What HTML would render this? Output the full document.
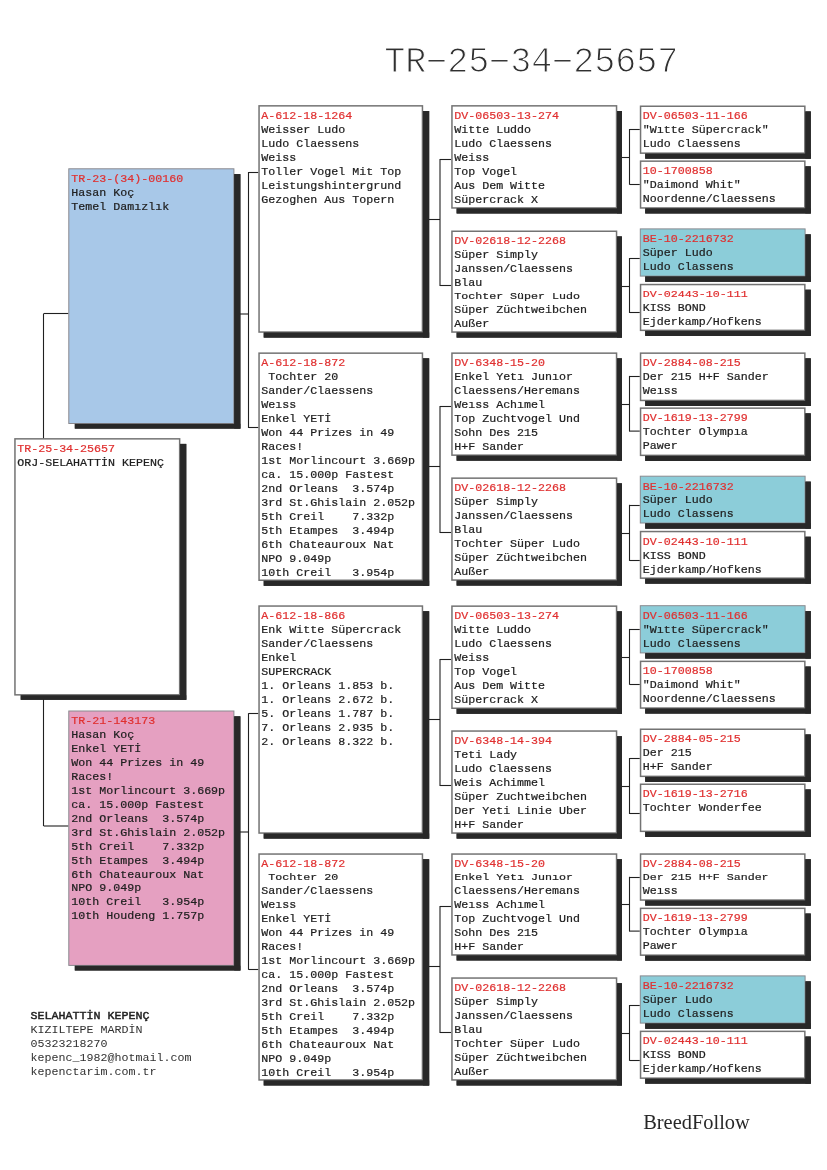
<!DOCTYPE html>
<html><head><meta charset="utf-8"><title>TR-25-34-25657</title>
<style>
html,body{margin:0;padding:0;background:#fff;}
body{width:827px;height:1170px;overflow:hidden;font-family:"Liberation Mono",monospace;}
svg{display:block;}
</style></head><body>
<svg width="827" height="1170" viewBox="0 0 827 1170">
<defs><filter id="idf" x="0" y="0" width="827" height="1170" filterUnits="userSpaceOnUse" color-interpolation-filters="sRGB"><feOffset dx="0" dy="0"/></filter></defs>
<rect width="827" height="1170" fill="#ffffff"/>
<g stroke="#202020" stroke-width="1.1" fill="none">
<path d="M43.50 438.70L43.50 313.60"/>
<path d="M43.70 313.50L68.50 313.50"/>
<path d="M43.50 699.00L43.50 826.00"/>
<path d="M43.70 826.00L68.50 826.00"/>
<path d="M239.00 314.00L248.50 314.00"/>
<path d="M248.50 171.90L248.50 427.90"/>
<path d="M248.50 172.50L258.40 172.50"/>
<path d="M248.50 427.50L258.40 427.50"/>
<path d="M239.00 832.00L248.50 832.00"/>
<path d="M248.50 713.20L248.50 969.80"/>
<path d="M248.50 713.50L258.40 713.50"/>
<path d="M248.50 969.50L258.40 969.50"/>
<path d="M428.20 219.50L440.00 219.50"/>
<path d="M440.00 158.90L440.00 285.90"/>
<path d="M440.00 159.50L451.20 159.50"/>
<path d="M440.00 285.50L451.20 285.50"/>
<path d="M428.20 466.50L440.00 466.50"/>
<path d="M440.00 405.90L440.00 532.90"/>
<path d="M440.00 406.50L451.20 406.50"/>
<path d="M440.00 532.50L451.20 532.50"/>
<path d="M428.20 719.50L440.00 719.50"/>
<path d="M440.00 658.90L440.00 785.90"/>
<path d="M440.00 659.50L451.20 659.50"/>
<path d="M440.00 785.50L451.20 785.50"/>
<path d="M428.20 966.50L440.00 966.50"/>
<path d="M440.00 905.90L440.00 1032.90"/>
<path d="M440.00 906.50L451.20 906.50"/>
<path d="M440.00 1032.50L451.20 1032.50"/>
<path d="M621.30 157.50L629.60 157.50"/>
<path d="M629.50 129.00L629.50 184.70"/>
<path d="M629.60 129.50L639.80 129.50"/>
<path d="M629.60 184.50L639.80 184.50"/>
<path d="M621.30 286.50L629.60 286.50"/>
<path d="M629.50 258.00L629.50 313.00"/>
<path d="M629.60 258.50L639.80 258.50"/>
<path d="M629.60 312.50L639.80 312.50"/>
<path d="M621.30 404.50L629.60 404.50"/>
<path d="M629.50 375.90L629.50 431.60"/>
<path d="M629.60 376.50L639.80 376.50"/>
<path d="M629.60 431.10L639.80 431.10"/>
<path d="M621.30 533.50L629.60 533.50"/>
<path d="M629.50 504.80L629.50 560.90"/>
<path d="M629.60 505.50L639.80 505.50"/>
<path d="M629.60 560.50L639.80 560.50"/>
<path d="M621.30 657.50L629.60 657.50"/>
<path d="M629.50 628.90L629.50 684.70"/>
<path d="M629.60 629.50L639.80 629.50"/>
<path d="M629.60 684.50L639.80 684.50"/>
<path d="M621.30 786.50L629.60 786.50"/>
<path d="M629.50 758.00L629.50 814.00"/>
<path d="M629.60 758.50L639.80 758.50"/>
<path d="M629.60 813.50L639.80 813.50"/>
<path d="M621.30 904.50L629.60 904.50"/>
<path d="M629.50 876.80L629.50 931.60"/>
<path d="M629.60 877.50L639.80 877.50"/>
<path d="M629.60 931.10L639.80 931.10"/>
<path d="M621.30 1033.50L629.60 1033.50"/>
<path d="M629.50 1005.00L629.50 1060.80"/>
<path d="M629.60 1005.50L639.80 1005.50"/>
<path d="M629.60 1060.50L639.80 1060.50"/>
</g>
<g font-family="Liberation Mono, monospace" font-size="11.67px" stroke-width="0.22" filter="url(#idf)">
<rect x="20.70" y="443.90" width="165.60" height="255.90" fill="#282828"/>
<rect x="14.95" y="438.85" width="164.70" height="256.00" fill="#ffffff" stroke="#737373" stroke-width="1.5"/>
<rect x="180.10" y="443.90" width="6.20" height="255.90" fill="#282828"/>
<rect x="20.70" y="695.30" width="165.60" height="4.50" fill="#282828"/>
<text x="17.20" y="0" transform="translate(0 451.90) scale(1 0.930)" fill="#e03030" stroke="#e03030" xml:space="preserve">TR-25-34-25657</text>
<text x="17.20" y="0" transform="translate(0 465.86) scale(1 0.930)" fill="#202020" stroke="#202020" xml:space="preserve">ORJ-SELAHATTİN KEPENÇ</text>
<rect x="74.80" y="174.10" width="165.60" height="254.50" fill="#282828"/>
<rect x="68.80" y="168.80" width="165.10" height="254.70" fill="#a8c8e8" stroke="#8a8a90" stroke-width="1.0"/>
<rect x="234.20" y="174.10" width="6.20" height="254.50" fill="#282828"/>
<rect x="74.80" y="423.80" width="165.60" height="4.80" fill="#282828"/>
<text x="71.30" y="0" transform="translate(0 182.10) scale(1 0.930)" fill="#e03030" stroke="#e03030" xml:space="preserve">TR-23-(34)-00160</text>
<text x="71.30" y="0" transform="translate(0 196.06) scale(1 0.930)" fill="#202020" stroke="#202020" xml:space="preserve">Hasan Koç</text>
<text x="71.30" y="0" transform="translate(0 210.02) scale(1 0.930)" fill="#202020" stroke="#202020" xml:space="preserve">Temel Damızlık</text>
<rect x="74.80" y="716.30" width="165.60" height="254.20" fill="#282828"/>
<rect x="68.80" y="711.00" width="165.10" height="254.40" fill="#e5a0c1" stroke="#8a8a90" stroke-width="1.0"/>
<rect x="234.20" y="716.30" width="6.20" height="254.20" fill="#282828"/>
<rect x="74.80" y="965.70" width="165.60" height="4.80" fill="#282828"/>
<text x="71.30" y="0" transform="translate(0 724.30) scale(1 0.930)" fill="#e03030" stroke="#e03030" xml:space="preserve">TR-21-143173</text>
<text x="71.30" y="0" transform="translate(0 738.26) scale(1 0.930)" fill="#202020" stroke="#202020" xml:space="preserve">Hasan Koç</text>
<text x="71.30" y="0" transform="translate(0 752.22) scale(1 0.930)" fill="#202020" stroke="#202020" xml:space="preserve">Enkel YETİ</text>
<text x="71.30" y="0" transform="translate(0 766.18) scale(1 0.930)" fill="#202020" stroke="#202020" xml:space="preserve">Won 44 Prizes in 49</text>
<text x="71.30" y="0" transform="translate(0 780.14) scale(1 0.930)" fill="#202020" stroke="#202020" xml:space="preserve">Races!</text>
<text x="71.30" y="0" transform="translate(0 794.10) scale(1 0.930)" fill="#202020" stroke="#202020" xml:space="preserve">1st Morlincourt 3.669p</text>
<text x="71.30" y="0" transform="translate(0 808.06) scale(1 0.930)" fill="#202020" stroke="#202020" xml:space="preserve">ca. 15.000p Fastest</text>
<text x="71.30" y="0" transform="translate(0 822.02) scale(1 0.930)" fill="#202020" stroke="#202020" xml:space="preserve">2nd Orleans  3.574p</text>
<text x="71.30" y="0" transform="translate(0 835.98) scale(1 0.930)" fill="#202020" stroke="#202020" xml:space="preserve">3rd St.Ghislain 2.052p</text>
<text x="71.30" y="0" transform="translate(0 849.94) scale(1 0.930)" fill="#202020" stroke="#202020" xml:space="preserve">5th Creil    7.332p</text>
<text x="71.30" y="0" transform="translate(0 863.90) scale(1 0.930)" fill="#202020" stroke="#202020" xml:space="preserve">5th Etampes  3.494p</text>
<text x="71.30" y="0" transform="translate(0 877.86) scale(1 0.930)" fill="#202020" stroke="#202020" xml:space="preserve">6th Chateauroux Nat</text>
<text x="71.30" y="0" transform="translate(0 890.82) scale(1 0.930)" fill="#202020" stroke="#202020" xml:space="preserve">NPO 9.049p</text>
<text x="71.30" y="0" transform="translate(0 904.78) scale(1 0.930)" fill="#202020" stroke="#202020" xml:space="preserve">10th Creil   3.954p</text>
<text x="71.30" y="0" transform="translate(0 918.74) scale(1 0.930)" fill="#202020" stroke="#202020" xml:space="preserve">10th Houdeng 1.757p</text>
<rect x="263.70" y="111.00" width="165.50" height="226.60" fill="#282828"/>
<rect x="259.05" y="105.85" width="163.40" height="226.20" fill="#ffffff" stroke="#737373" stroke-width="1.5"/>
<rect x="422.90" y="111.00" width="6.30" height="226.60" fill="#282828"/>
<rect x="263.70" y="332.50" width="165.50" height="5.10" fill="#282828"/>
<text x="261.30" y="0" transform="translate(0 118.90) scale(1 0.930)" fill="#e03030" stroke="#e03030" xml:space="preserve">A-612-18-1264</text>
<text x="261.30" y="0" transform="translate(0 132.86) scale(1 0.930)" fill="#202020" stroke="#202020" xml:space="preserve">Weisser Ludo</text>
<text x="261.30" y="0" transform="translate(0 146.82) scale(1 0.930)" fill="#202020" stroke="#202020" xml:space="preserve">Ludo Claessens</text>
<text x="261.30" y="0" transform="translate(0 160.78) scale(1 0.930)" fill="#202020" stroke="#202020" xml:space="preserve">Weiss</text>
<text x="261.30" y="0" transform="translate(0 174.74) scale(1 0.930)" fill="#202020" stroke="#202020" xml:space="preserve">Toller Vogel Mit Top</text>
<text x="261.30" y="0" transform="translate(0 188.70) scale(1 0.930)" fill="#202020" stroke="#202020" xml:space="preserve">Leistungshintergrund</text>
<text x="261.30" y="0" transform="translate(0 202.66) scale(1 0.930)" fill="#202020" stroke="#202020" xml:space="preserve">Gezoghen Aus Topern</text>
<rect x="263.70" y="358.30" width="165.50" height="227.50" fill="#282828"/>
<rect x="259.05" y="353.15" width="163.40" height="227.10" fill="#ffffff" stroke="#737373" stroke-width="1.5"/>
<rect x="422.90" y="358.30" width="6.30" height="227.50" fill="#282828"/>
<rect x="263.70" y="580.70" width="165.50" height="5.10" fill="#282828"/>
<text x="261.30" y="0" transform="translate(0 366.20) scale(1 0.930)" fill="#e03030" stroke="#e03030" xml:space="preserve">A-612-18-872</text>
<text x="261.30" y="0" transform="translate(0 380.16) scale(1 0.930)" fill="#202020" stroke="#202020" xml:space="preserve"> Tochter 20</text>
<text x="261.30" y="0" transform="translate(0 394.12) scale(1 0.930)" fill="#202020" stroke="#202020" xml:space="preserve">Sander/Claessens</text>
<text x="261.30" y="0" transform="translate(0 408.08) scale(1 0.930)" fill="#202020" stroke="#202020" xml:space="preserve">Weıss</text>
<text x="261.30" y="0" transform="translate(0 422.04) scale(1 0.930)" fill="#202020" stroke="#202020" xml:space="preserve">Enkel YETİ</text>
<text x="261.30" y="0" transform="translate(0 436.00) scale(1 0.930)" fill="#202020" stroke="#202020" xml:space="preserve">Won 44 Prizes in 49</text>
<text x="261.30" y="0" transform="translate(0 449.96) scale(1 0.930)" fill="#202020" stroke="#202020" xml:space="preserve">Races!</text>
<text x="261.30" y="0" transform="translate(0 463.92) scale(1 0.930)" fill="#202020" stroke="#202020" xml:space="preserve">1st Morlincourt 3.669p</text>
<text x="261.30" y="0" transform="translate(0 477.88) scale(1 0.930)" fill="#202020" stroke="#202020" xml:space="preserve">ca. 15.000p Fastest</text>
<text x="261.30" y="0" transform="translate(0 491.84) scale(1 0.930)" fill="#202020" stroke="#202020" xml:space="preserve">2nd Orleans  3.574p</text>
<text x="261.30" y="0" transform="translate(0 505.80) scale(1 0.930)" fill="#202020" stroke="#202020" xml:space="preserve">3rd St.Ghislain 2.052p</text>
<text x="261.30" y="0" transform="translate(0 519.76) scale(1 0.930)" fill="#202020" stroke="#202020" xml:space="preserve">5th Creil    7.332p</text>
<text x="261.30" y="0" transform="translate(0 533.72) scale(1 0.930)" fill="#202020" stroke="#202020" xml:space="preserve">5th Etampes  3.494p</text>
<text x="261.30" y="0" transform="translate(0 547.68) scale(1 0.930)" fill="#202020" stroke="#202020" xml:space="preserve">6th Chateauroux Nat</text>
<text x="261.30" y="0" transform="translate(0 561.64) scale(1 0.930)" fill="#202020" stroke="#202020" xml:space="preserve">NPO 9.049p</text>
<text x="261.30" y="0" transform="translate(0 575.60) scale(1 0.930)" fill="#202020" stroke="#202020" xml:space="preserve">10th Creil   3.954p</text>
<rect x="263.70" y="611.20" width="165.50" height="227.40" fill="#282828"/>
<rect x="259.05" y="606.05" width="163.40" height="227.00" fill="#ffffff" stroke="#737373" stroke-width="1.5"/>
<rect x="422.90" y="611.20" width="6.30" height="227.40" fill="#282828"/>
<rect x="263.70" y="833.50" width="165.50" height="5.10" fill="#282828"/>
<text x="261.30" y="0" transform="translate(0 619.10) scale(1 0.930)" fill="#e03030" stroke="#e03030" xml:space="preserve">A-612-18-866</text>
<text x="261.30" y="0" transform="translate(0 633.06) scale(1 0.930)" fill="#202020" stroke="#202020" xml:space="preserve">Enk Witte Süpercrack</text>
<text x="261.30" y="0" transform="translate(0 647.02) scale(1 0.930)" fill="#202020" stroke="#202020" xml:space="preserve">Sander/Claessens</text>
<text x="261.30" y="0" transform="translate(0 660.98) scale(1 0.930)" fill="#202020" stroke="#202020" xml:space="preserve">Enkel</text>
<text x="261.30" y="0" transform="translate(0 674.94) scale(1 0.930)" fill="#202020" stroke="#202020" xml:space="preserve">SUPERCRACK</text>
<text x="261.30" y="0" transform="translate(0 688.90) scale(1 0.930)" fill="#202020" stroke="#202020" xml:space="preserve">1. Orleans 1.853 b.</text>
<text x="261.30" y="0" transform="translate(0 702.86) scale(1 0.930)" fill="#202020" stroke="#202020" xml:space="preserve">1. Orleans 2.672 b.</text>
<text x="261.30" y="0" transform="translate(0 716.82) scale(1 0.930)" fill="#202020" stroke="#202020" xml:space="preserve">5. Orleans 1.787 b.</text>
<text x="261.30" y="0" transform="translate(0 730.78) scale(1 0.930)" fill="#202020" stroke="#202020" xml:space="preserve">7. Orleans 2.935 b.</text>
<text x="261.30" y="0" transform="translate(0 744.74) scale(1 0.930)" fill="#202020" stroke="#202020" xml:space="preserve">2. Orleans 8.322 b.</text>
<rect x="263.70" y="859.20" width="165.50" height="226.30" fill="#282828"/>
<rect x="259.05" y="854.05" width="163.40" height="225.90" fill="#ffffff" stroke="#737373" stroke-width="1.5"/>
<rect x="422.90" y="859.20" width="6.30" height="226.30" fill="#282828"/>
<rect x="263.70" y="1080.40" width="165.50" height="5.10" fill="#282828"/>
<text x="261.30" y="0" transform="translate(0 867.10) scale(1 0.930)" fill="#e03030" stroke="#e03030" xml:space="preserve">A-612-18-872</text>
<text x="261.30" y="0" transform="translate(0 880.06) scale(1 0.806)" fill="#202020" stroke="#202020" xml:space="preserve"> Tochter 20</text>
<text x="261.30" y="0" transform="translate(0 894.02) scale(1 0.930)" fill="#202020" stroke="#202020" xml:space="preserve">Sander/Claessens</text>
<text x="261.30" y="0" transform="translate(0 907.98) scale(1 0.930)" fill="#202020" stroke="#202020" xml:space="preserve">Weıss</text>
<text x="261.30" y="0" transform="translate(0 921.94) scale(1 0.930)" fill="#202020" stroke="#202020" xml:space="preserve">Enkel YETİ</text>
<text x="261.30" y="0" transform="translate(0 935.90) scale(1 0.930)" fill="#202020" stroke="#202020" xml:space="preserve">Won 44 Prizes in 49</text>
<text x="261.30" y="0" transform="translate(0 949.86) scale(1 0.930)" fill="#202020" stroke="#202020" xml:space="preserve">Races!</text>
<text x="261.30" y="0" transform="translate(0 963.82) scale(1 0.930)" fill="#202020" stroke="#202020" xml:space="preserve">1st Morlincourt 3.669p</text>
<text x="261.30" y="0" transform="translate(0 977.78) scale(1 0.930)" fill="#202020" stroke="#202020" xml:space="preserve">ca. 15.000p Fastest</text>
<text x="261.30" y="0" transform="translate(0 991.74) scale(1 0.930)" fill="#202020" stroke="#202020" xml:space="preserve">2nd Orleans  3.574p</text>
<text x="261.30" y="0" transform="translate(0 1005.70) scale(1 0.930)" fill="#202020" stroke="#202020" xml:space="preserve">3rd St.Ghislain 2.052p</text>
<text x="261.30" y="0" transform="translate(0 1019.66) scale(1 0.930)" fill="#202020" stroke="#202020" xml:space="preserve">5th Creil    7.332p</text>
<text x="261.30" y="0" transform="translate(0 1033.62) scale(1 0.930)" fill="#202020" stroke="#202020" xml:space="preserve">5th Etampes  3.494p</text>
<text x="261.30" y="0" transform="translate(0 1047.58) scale(1 0.930)" fill="#202020" stroke="#202020" xml:space="preserve">6th Chateauroux Nat</text>
<text x="261.30" y="0" transform="translate(0 1061.54) scale(1 0.930)" fill="#202020" stroke="#202020" xml:space="preserve">NPO 9.049p</text>
<text x="261.30" y="0" transform="translate(0 1075.50) scale(1 0.930)" fill="#202020" stroke="#202020" xml:space="preserve">10th Creil   3.954p</text>
<rect x="456.60" y="111.00" width="165.30" height="102.50" fill="#282828"/>
<rect x="451.95" y="105.85" width="164.60" height="102.10" fill="#ffffff" stroke="#737373" stroke-width="1.5"/>
<rect x="617.00" y="111.00" width="4.90" height="102.50" fill="#282828"/>
<rect x="456.60" y="208.40" width="165.30" height="5.10" fill="#282828"/>
<text x="454.20" y="0" transform="translate(0 118.90) scale(1 0.930)" fill="#e03030" stroke="#e03030" xml:space="preserve">DV-06503-13-274</text>
<text x="454.20" y="0" transform="translate(0 132.86) scale(1 0.930)" fill="#202020" stroke="#202020" xml:space="preserve">Witte Luddo</text>
<text x="454.20" y="0" transform="translate(0 146.82) scale(1 0.930)" fill="#202020" stroke="#202020" xml:space="preserve">Ludo Claessens</text>
<text x="454.20" y="0" transform="translate(0 160.78) scale(1 0.930)" fill="#202020" stroke="#202020" xml:space="preserve">Weiss</text>
<text x="454.20" y="0" transform="translate(0 174.74) scale(1 0.930)" fill="#202020" stroke="#202020" xml:space="preserve">Top Vogel</text>
<text x="454.20" y="0" transform="translate(0 188.70) scale(1 0.930)" fill="#202020" stroke="#202020" xml:space="preserve">Aus Dem Witte</text>
<text x="454.20" y="0" transform="translate(0 202.66) scale(1 0.930)" fill="#202020" stroke="#202020" xml:space="preserve">Süpercrack X</text>
<rect x="456.60" y="236.40" width="165.30" height="101.20" fill="#282828"/>
<rect x="451.95" y="231.25" width="164.60" height="100.80" fill="#ffffff" stroke="#737373" stroke-width="1.5"/>
<rect x="617.00" y="236.40" width="4.90" height="101.20" fill="#282828"/>
<rect x="456.60" y="332.50" width="165.30" height="5.10" fill="#282828"/>
<text x="454.20" y="0" transform="translate(0 244.30) scale(1 0.930)" fill="#e03030" stroke="#e03030" xml:space="preserve">DV-02618-12-2268</text>
<text x="454.20" y="0" transform="translate(0 258.26) scale(1 0.930)" fill="#202020" stroke="#202020" xml:space="preserve">Süper Simply</text>
<text x="454.20" y="0" transform="translate(0 272.22) scale(1 0.930)" fill="#202020" stroke="#202020" xml:space="preserve">Janssen/Claessens</text>
<text x="454.20" y="0" transform="translate(0 286.18) scale(1 0.930)" fill="#202020" stroke="#202020" xml:space="preserve">Blau</text>
<text x="454.20" y="0" transform="translate(0 299.14) scale(1 0.806)" fill="#202020" stroke="#202020" xml:space="preserve">Tochter Süper Ludo</text>
<text x="454.20" y="0" transform="translate(0 313.10) scale(1 0.930)" fill="#202020" stroke="#202020" xml:space="preserve">Süper Züchtweibchen</text>
<text x="454.20" y="0" transform="translate(0 327.06) scale(1 0.930)" fill="#202020" stroke="#202020" xml:space="preserve">Außer</text>
<rect x="456.60" y="358.30" width="165.30" height="102.40" fill="#282828"/>
<rect x="451.95" y="353.15" width="164.60" height="102.00" fill="#ffffff" stroke="#737373" stroke-width="1.5"/>
<rect x="617.00" y="358.30" width="4.90" height="102.40" fill="#282828"/>
<rect x="456.60" y="455.60" width="165.30" height="5.10" fill="#282828"/>
<text x="454.20" y="0" transform="translate(0 366.20) scale(1 0.930)" fill="#e03030" stroke="#e03030" xml:space="preserve">DV-6348-15-20</text>
<text x="454.20" y="0" transform="translate(0 380.16) scale(1 0.930)" fill="#202020" stroke="#202020" xml:space="preserve">Enkel Yetı Junıor</text>
<text x="454.20" y="0" transform="translate(0 394.12) scale(1 0.930)" fill="#202020" stroke="#202020" xml:space="preserve">Claessens/Heremans</text>
<text x="454.20" y="0" transform="translate(0 408.08) scale(1 0.930)" fill="#202020" stroke="#202020" xml:space="preserve">Weıss Achımel</text>
<text x="454.20" y="0" transform="translate(0 422.04) scale(1 0.930)" fill="#202020" stroke="#202020" xml:space="preserve">Top Zuchtvogel Und</text>
<text x="454.20" y="0" transform="translate(0 436.00) scale(1 0.930)" fill="#202020" stroke="#202020" xml:space="preserve">Sohn Des 215</text>
<text x="454.20" y="0" transform="translate(0 449.96) scale(1 0.930)" fill="#202020" stroke="#202020" xml:space="preserve">H+F Sander</text>
<rect x="456.60" y="483.30" width="165.30" height="102.30" fill="#282828"/>
<rect x="451.95" y="478.15" width="164.60" height="101.90" fill="#ffffff" stroke="#737373" stroke-width="1.5"/>
<rect x="617.00" y="483.30" width="4.90" height="102.30" fill="#282828"/>
<rect x="456.60" y="580.50" width="165.30" height="5.10" fill="#282828"/>
<text x="454.20" y="0" transform="translate(0 491.20) scale(1 0.930)" fill="#e03030" stroke="#e03030" xml:space="preserve">DV-02618-12-2268</text>
<text x="454.20" y="0" transform="translate(0 505.16) scale(1 0.930)" fill="#202020" stroke="#202020" xml:space="preserve">Süper Simply</text>
<text x="454.20" y="0" transform="translate(0 519.12) scale(1 0.930)" fill="#202020" stroke="#202020" xml:space="preserve">Janssen/Claessens</text>
<text x="454.20" y="0" transform="translate(0 533.08) scale(1 0.930)" fill="#202020" stroke="#202020" xml:space="preserve">Blau</text>
<text x="454.20" y="0" transform="translate(0 547.04) scale(1 0.930)" fill="#202020" stroke="#202020" xml:space="preserve">Tochter Süper Ludo</text>
<text x="454.20" y="0" transform="translate(0 561.00) scale(1 0.930)" fill="#202020" stroke="#202020" xml:space="preserve">Süper Züchtweibchen</text>
<text x="454.20" y="0" transform="translate(0 574.96) scale(1 0.930)" fill="#202020" stroke="#202020" xml:space="preserve">Außer</text>
<rect x="456.60" y="611.30" width="165.30" height="102.50" fill="#282828"/>
<rect x="451.95" y="606.15" width="164.60" height="102.10" fill="#ffffff" stroke="#737373" stroke-width="1.5"/>
<rect x="617.00" y="611.30" width="4.90" height="102.50" fill="#282828"/>
<rect x="456.60" y="708.70" width="165.30" height="5.10" fill="#282828"/>
<text x="454.20" y="0" transform="translate(0 619.20) scale(1 0.930)" fill="#e03030" stroke="#e03030" xml:space="preserve">DV-06503-13-274</text>
<text x="454.20" y="0" transform="translate(0 633.16) scale(1 0.930)" fill="#202020" stroke="#202020" xml:space="preserve">Witte Luddo</text>
<text x="454.20" y="0" transform="translate(0 647.12) scale(1 0.930)" fill="#202020" stroke="#202020" xml:space="preserve">Ludo Claessens</text>
<text x="454.20" y="0" transform="translate(0 661.08) scale(1 0.930)" fill="#202020" stroke="#202020" xml:space="preserve">Weiss</text>
<text x="454.20" y="0" transform="translate(0 675.04) scale(1 0.930)" fill="#202020" stroke="#202020" xml:space="preserve">Top Vogel</text>
<text x="454.20" y="0" transform="translate(0 689.00) scale(1 0.930)" fill="#202020" stroke="#202020" xml:space="preserve">Aus Dem Witte</text>
<text x="454.20" y="0" transform="translate(0 702.96) scale(1 0.930)" fill="#202020" stroke="#202020" xml:space="preserve">Süpercrack X</text>
<rect x="456.60" y="736.20" width="165.30" height="102.40" fill="#282828"/>
<rect x="451.95" y="731.05" width="164.60" height="102.00" fill="#ffffff" stroke="#737373" stroke-width="1.5"/>
<rect x="617.00" y="736.20" width="4.90" height="102.40" fill="#282828"/>
<rect x="456.60" y="833.50" width="165.30" height="5.10" fill="#282828"/>
<text x="454.20" y="0" transform="translate(0 744.10) scale(1 0.930)" fill="#e03030" stroke="#e03030" xml:space="preserve">DV-6348-14-394</text>
<text x="454.20" y="0" transform="translate(0 758.06) scale(1 0.930)" fill="#202020" stroke="#202020" xml:space="preserve">Teti Lady</text>
<text x="454.20" y="0" transform="translate(0 772.02) scale(1 0.930)" fill="#202020" stroke="#202020" xml:space="preserve">Ludo Claessens</text>
<text x="454.20" y="0" transform="translate(0 785.98) scale(1 0.930)" fill="#202020" stroke="#202020" xml:space="preserve">Weis Achimmel</text>
<text x="454.20" y="0" transform="translate(0 799.94) scale(1 0.930)" fill="#202020" stroke="#202020" xml:space="preserve">Süper Zuchtweibchen</text>
<text x="454.20" y="0" transform="translate(0 813.90) scale(1 0.930)" fill="#202020" stroke="#202020" xml:space="preserve">Der Yeti Linie Uber</text>
<text x="454.20" y="0" transform="translate(0 827.86) scale(1 0.930)" fill="#202020" stroke="#202020" xml:space="preserve">H+F Sander</text>
<rect x="456.60" y="859.20" width="165.30" height="101.30" fill="#282828"/>
<rect x="451.95" y="854.05" width="164.60" height="100.90" fill="#ffffff" stroke="#737373" stroke-width="1.5"/>
<rect x="617.00" y="859.20" width="4.90" height="101.30" fill="#282828"/>
<rect x="456.60" y="955.40" width="165.30" height="5.10" fill="#282828"/>
<text x="454.20" y="0" transform="translate(0 867.10) scale(1 0.930)" fill="#e03030" stroke="#e03030" xml:space="preserve">DV-6348-15-20</text>
<text x="454.20" y="0" transform="translate(0 880.06) scale(1 0.806)" fill="#202020" stroke="#202020" xml:space="preserve">Enkel Yetı Junıor</text>
<text x="454.20" y="0" transform="translate(0 894.02) scale(1 0.930)" fill="#202020" stroke="#202020" xml:space="preserve">Claessens/Heremans</text>
<text x="454.20" y="0" transform="translate(0 907.98) scale(1 0.930)" fill="#202020" stroke="#202020" xml:space="preserve">Weıss Achımel</text>
<text x="454.20" y="0" transform="translate(0 921.94) scale(1 0.930)" fill="#202020" stroke="#202020" xml:space="preserve">Top Zuchtvogel Und</text>
<text x="454.20" y="0" transform="translate(0 935.90) scale(1 0.930)" fill="#202020" stroke="#202020" xml:space="preserve">Sohn Des 215</text>
<text x="454.20" y="0" transform="translate(0 949.86) scale(1 0.930)" fill="#202020" stroke="#202020" xml:space="preserve">H+F Sander</text>
<rect x="456.60" y="983.20" width="165.30" height="102.30" fill="#282828"/>
<rect x="451.95" y="978.05" width="164.60" height="101.90" fill="#ffffff" stroke="#737373" stroke-width="1.5"/>
<rect x="617.00" y="983.20" width="4.90" height="102.30" fill="#282828"/>
<rect x="456.60" y="1080.40" width="165.30" height="5.10" fill="#282828"/>
<text x="454.20" y="0" transform="translate(0 991.10) scale(1 0.930)" fill="#e03030" stroke="#e03030" xml:space="preserve">DV-02618-12-2268</text>
<text x="454.20" y="0" transform="translate(0 1005.06) scale(1 0.930)" fill="#202020" stroke="#202020" xml:space="preserve">Süper Simply</text>
<text x="454.20" y="0" transform="translate(0 1019.02) scale(1 0.930)" fill="#202020" stroke="#202020" xml:space="preserve">Janssen/Claessens</text>
<text x="454.20" y="0" transform="translate(0 1032.98) scale(1 0.930)" fill="#202020" stroke="#202020" xml:space="preserve">Blau</text>
<text x="454.20" y="0" transform="translate(0 1046.94) scale(1 0.930)" fill="#202020" stroke="#202020" xml:space="preserve">Tochter Süper Ludo</text>
<text x="454.20" y="0" transform="translate(0 1060.90) scale(1 0.930)" fill="#202020" stroke="#202020" xml:space="preserve">Süper Züchtweibchen</text>
<text x="454.20" y="0" transform="translate(0 1074.86) scale(1 0.930)" fill="#202020" stroke="#202020" xml:space="preserve">Außer</text>
<rect x="645.20" y="111.40" width="165.60" height="47.30" fill="#282828"/>
<rect x="640.55" y="106.25" width="164.30" height="46.90" fill="#fff" stroke="#737373" stroke-width="1.5"/>
<rect x="805.30" y="111.40" width="5.50" height="47.30" fill="#282828"/>
<rect x="645.20" y="153.60" width="165.60" height="5.10" fill="#282828"/>
<text x="642.80" y="0" transform="translate(0 119.30) scale(1 0.930)" fill="#e03030" stroke="#e03030" xml:space="preserve">DV-06503-11-166</text>
<text x="642.80" y="0" transform="translate(0 133.26) scale(1 0.930)" fill="#202020" stroke="#202020" xml:space="preserve">&quot;Wıtte Süpercrack&quot;</text>
<text x="642.80" y="0" transform="translate(0 147.22) scale(1 0.930)" fill="#202020" stroke="#202020" xml:space="preserve">Ludo Claessens</text>
<rect x="645.20" y="166.30" width="165.60" height="47.20" fill="#282828"/>
<rect x="640.55" y="161.15" width="164.30" height="46.80" fill="#fff" stroke="#737373" stroke-width="1.5"/>
<rect x="805.30" y="166.30" width="5.50" height="47.20" fill="#282828"/>
<rect x="645.20" y="208.40" width="165.60" height="5.10" fill="#282828"/>
<text x="642.80" y="0" transform="translate(0 174.20) scale(1 0.930)" fill="#e03030" stroke="#e03030" xml:space="preserve">10-1700858</text>
<text x="642.80" y="0" transform="translate(0 188.16) scale(1 0.930)" fill="#202020" stroke="#202020" xml:space="preserve">&quot;Daimond Whit&quot;</text>
<text x="642.80" y="0" transform="translate(0 202.12) scale(1 0.930)" fill="#202020" stroke="#202020" xml:space="preserve">Noordenne/Claessens</text>
<rect x="645.20" y="234.30" width="165.60" height="47.50" fill="#282828"/>
<rect x="640.30" y="228.90" width="164.80" height="47.20" fill="#8ccdd9" stroke="#8a8a90" stroke-width="1.0"/>
<rect x="805.40" y="234.30" width="5.40" height="47.50" fill="#282828"/>
<rect x="645.20" y="276.40" width="165.60" height="5.40" fill="#282828"/>
<text x="642.80" y="0" transform="translate(0 242.20) scale(1 0.930)" fill="#e03030" stroke="#e03030" xml:space="preserve">BE-10-2216732</text>
<text x="642.80" y="0" transform="translate(0 256.16) scale(1 0.930)" fill="#202020" stroke="#202020" xml:space="preserve">Süper Ludo</text>
<text x="642.80" y="0" transform="translate(0 270.12) scale(1 0.930)" fill="#202020" stroke="#202020" xml:space="preserve">Ludo Classens</text>
<rect x="645.20" y="289.70" width="165.60" height="46.20" fill="#282828"/>
<rect x="640.55" y="284.55" width="164.30" height="45.80" fill="#fff" stroke="#737373" stroke-width="1.5"/>
<rect x="805.30" y="289.70" width="5.50" height="46.20" fill="#282828"/>
<rect x="645.20" y="330.80" width="165.60" height="5.10" fill="#282828"/>
<text x="642.80" y="0" transform="translate(0 296.60) scale(1 0.806)" fill="#e03030" stroke="#e03030" xml:space="preserve">DV-02443-10-111</text>
<text x="642.80" y="0" transform="translate(0 310.56) scale(1 0.930)" fill="#202020" stroke="#202020" xml:space="preserve">KISS BOND</text>
<text x="642.80" y="0" transform="translate(0 324.52) scale(1 0.930)" fill="#202020" stroke="#202020" xml:space="preserve">Ejderkamp/Hofkens</text>
<rect x="645.20" y="358.30" width="165.60" height="47.70" fill="#282828"/>
<rect x="640.55" y="353.15" width="164.30" height="47.30" fill="#fff" stroke="#737373" stroke-width="1.5"/>
<rect x="805.30" y="358.30" width="5.50" height="47.70" fill="#282828"/>
<rect x="645.20" y="400.90" width="165.60" height="5.10" fill="#282828"/>
<text x="642.80" y="0" transform="translate(0 366.20) scale(1 0.930)" fill="#e03030" stroke="#e03030" xml:space="preserve">DV-2884-08-215</text>
<text x="642.80" y="0" transform="translate(0 380.16) scale(1 0.930)" fill="#202020" stroke="#202020" xml:space="preserve">Der 215 H+F Sander</text>
<text x="642.80" y="0" transform="translate(0 394.12) scale(1 0.930)" fill="#202020" stroke="#202020" xml:space="preserve">Weıss</text>
<rect x="645.20" y="413.30" width="165.60" height="47.60" fill="#282828"/>
<rect x="640.55" y="408.15" width="164.30" height="47.20" fill="#fff" stroke="#737373" stroke-width="1.5"/>
<rect x="805.30" y="413.30" width="5.50" height="47.60" fill="#282828"/>
<rect x="645.20" y="455.80" width="165.60" height="5.10" fill="#282828"/>
<text x="642.80" y="0" transform="translate(0 421.20) scale(1 0.930)" fill="#e03030" stroke="#e03030" xml:space="preserve">DV-1619-13-2799</text>
<text x="642.80" y="0" transform="translate(0 435.16) scale(1 0.930)" fill="#202020" stroke="#202020" xml:space="preserve">Tochter Olympıa</text>
<text x="642.80" y="0" transform="translate(0 449.12) scale(1 0.930)" fill="#202020" stroke="#202020" xml:space="preserve">Pawer</text>
<rect x="645.20" y="481.60" width="165.60" height="47.10" fill="#282828"/>
<rect x="640.30" y="476.20" width="164.80" height="46.80" fill="#8ccdd9" stroke="#8a8a90" stroke-width="1.0"/>
<rect x="805.40" y="481.60" width="5.40" height="47.10" fill="#282828"/>
<rect x="645.20" y="523.30" width="165.60" height="5.40" fill="#282828"/>
<text x="642.80" y="0" transform="translate(0 489.50) scale(1 0.930)" fill="#e03030" stroke="#e03030" xml:space="preserve">BE-10-2216732</text>
<text x="642.80" y="0" transform="translate(0 503.46) scale(1 0.930)" fill="#202020" stroke="#202020" xml:space="preserve">Süper Ludo</text>
<text x="642.80" y="0" transform="translate(0 517.42) scale(1 0.930)" fill="#202020" stroke="#202020" xml:space="preserve">Ludo Classens</text>
<rect x="645.20" y="536.70" width="165.60" height="47.00" fill="#282828"/>
<rect x="640.55" y="531.55" width="164.30" height="46.60" fill="#fff" stroke="#737373" stroke-width="1.5"/>
<rect x="805.30" y="536.70" width="5.50" height="47.00" fill="#282828"/>
<rect x="645.20" y="578.60" width="165.60" height="5.10" fill="#282828"/>
<text x="642.80" y="0" transform="translate(0 544.60) scale(1 0.930)" fill="#e03030" stroke="#e03030" xml:space="preserve">DV-02443-10-111</text>
<text x="642.80" y="0" transform="translate(0 558.56) scale(1 0.930)" fill="#202020" stroke="#202020" xml:space="preserve">KISS BOND</text>
<text x="642.80" y="0" transform="translate(0 572.52) scale(1 0.930)" fill="#202020" stroke="#202020" xml:space="preserve">Ejderkamp/Hofkens</text>
<rect x="645.20" y="611.10" width="165.60" height="47.50" fill="#282828"/>
<rect x="640.30" y="605.70" width="164.80" height="47.20" fill="#8ccdd9" stroke="#8a8a90" stroke-width="1.0"/>
<rect x="805.40" y="611.10" width="5.40" height="47.50" fill="#282828"/>
<rect x="645.20" y="653.20" width="165.60" height="5.40" fill="#282828"/>
<text x="642.80" y="0" transform="translate(0 619.00) scale(1 0.930)" fill="#e03030" stroke="#e03030" xml:space="preserve">DV-06503-11-166</text>
<text x="642.80" y="0" transform="translate(0 632.96) scale(1 0.930)" fill="#202020" stroke="#202020" xml:space="preserve">&quot;Wıtte Süpercrack&quot;</text>
<text x="642.80" y="0" transform="translate(0 646.92) scale(1 0.930)" fill="#202020" stroke="#202020" xml:space="preserve">Ludo Claessens</text>
<rect x="645.20" y="666.50" width="165.60" height="47.10" fill="#282828"/>
<rect x="640.55" y="661.35" width="164.30" height="46.70" fill="#fff" stroke="#737373" stroke-width="1.5"/>
<rect x="805.30" y="666.50" width="5.50" height="47.10" fill="#282828"/>
<rect x="645.20" y="708.50" width="165.60" height="5.10" fill="#282828"/>
<text x="642.80" y="0" transform="translate(0 674.40) scale(1 0.930)" fill="#e03030" stroke="#e03030" xml:space="preserve">10-1700858</text>
<text x="642.80" y="0" transform="translate(0 688.36) scale(1 0.930)" fill="#202020" stroke="#202020" xml:space="preserve">&quot;Daimond Whit&quot;</text>
<text x="642.80" y="0" transform="translate(0 702.32) scale(1 0.930)" fill="#202020" stroke="#202020" xml:space="preserve">Noordenne/Claessens</text>
<rect x="645.20" y="734.40" width="165.60" height="47.50" fill="#282828"/>
<rect x="640.55" y="729.25" width="164.30" height="47.10" fill="#fff" stroke="#737373" stroke-width="1.5"/>
<rect x="805.30" y="734.40" width="5.50" height="47.50" fill="#282828"/>
<rect x="645.20" y="776.80" width="165.60" height="5.10" fill="#282828"/>
<text x="642.80" y="0" transform="translate(0 742.30) scale(1 0.930)" fill="#e03030" stroke="#e03030" xml:space="preserve">DV-2884-05-215</text>
<text x="642.80" y="0" transform="translate(0 756.26) scale(1 0.930)" fill="#202020" stroke="#202020" xml:space="preserve">Der 215</text>
<text x="642.80" y="0" transform="translate(0 770.22) scale(1 0.930)" fill="#202020" stroke="#202020" xml:space="preserve">H+F Sander</text>
<rect x="645.20" y="789.40" width="165.60" height="47.50" fill="#282828"/>
<rect x="640.55" y="784.25" width="164.30" height="47.10" fill="#fff" stroke="#737373" stroke-width="1.5"/>
<rect x="805.30" y="789.40" width="5.50" height="47.50" fill="#282828"/>
<rect x="645.20" y="831.80" width="165.60" height="5.10" fill="#282828"/>
<text x="642.80" y="0" transform="translate(0 797.30) scale(1 0.930)" fill="#e03030" stroke="#e03030" xml:space="preserve">DV-1619-13-2716</text>
<text x="642.80" y="0" transform="translate(0 811.26) scale(1 0.930)" fill="#202020" stroke="#202020" xml:space="preserve">Tochter Wonderfee</text>
<rect x="645.20" y="859.20" width="165.60" height="46.40" fill="#282828"/>
<rect x="640.55" y="854.05" width="164.30" height="46.00" fill="#fff" stroke="#737373" stroke-width="1.5"/>
<rect x="805.30" y="859.20" width="5.50" height="46.40" fill="#282828"/>
<rect x="645.20" y="900.50" width="165.60" height="5.10" fill="#282828"/>
<text x="642.80" y="0" transform="translate(0 867.10) scale(1 0.930)" fill="#e03030" stroke="#e03030" xml:space="preserve">DV-2884-08-215</text>
<text x="642.80" y="0" transform="translate(0 880.06) scale(1 0.806)" fill="#202020" stroke="#202020" xml:space="preserve">Der 215 H+F Sander</text>
<text x="642.80" y="0" transform="translate(0 894.02) scale(1 0.930)" fill="#202020" stroke="#202020" xml:space="preserve">Weıss</text>
<rect x="645.20" y="913.50" width="165.60" height="47.20" fill="#282828"/>
<rect x="640.55" y="908.35" width="164.30" height="46.80" fill="#fff" stroke="#737373" stroke-width="1.5"/>
<rect x="805.30" y="913.50" width="5.50" height="47.20" fill="#282828"/>
<rect x="645.20" y="955.60" width="165.60" height="5.10" fill="#282828"/>
<text x="642.80" y="0" transform="translate(0 921.40) scale(1 0.930)" fill="#e03030" stroke="#e03030" xml:space="preserve">DV-1619-13-2799</text>
<text x="642.80" y="0" transform="translate(0 935.36) scale(1 0.930)" fill="#202020" stroke="#202020" xml:space="preserve">Tochter Olympıa</text>
<text x="642.80" y="0" transform="translate(0 949.32) scale(1 0.930)" fill="#202020" stroke="#202020" xml:space="preserve">Pawer</text>
<rect x="645.20" y="981.30" width="165.60" height="47.50" fill="#282828"/>
<rect x="640.30" y="975.90" width="164.80" height="47.20" fill="#8ccdd9" stroke="#8a8a90" stroke-width="1.0"/>
<rect x="805.40" y="981.30" width="5.40" height="47.50" fill="#282828"/>
<rect x="645.20" y="1023.40" width="165.60" height="5.40" fill="#282828"/>
<text x="642.80" y="0" transform="translate(0 989.20) scale(1 0.930)" fill="#e03030" stroke="#e03030" xml:space="preserve">BE-10-2216732</text>
<text x="642.80" y="0" transform="translate(0 1003.16) scale(1 0.930)" fill="#202020" stroke="#202020" xml:space="preserve">Süper Ludo</text>
<text x="642.80" y="0" transform="translate(0 1017.12) scale(1 0.930)" fill="#202020" stroke="#202020" xml:space="preserve">Ludo Classens</text>
<rect x="645.20" y="1036.50" width="165.60" height="47.20" fill="#282828"/>
<rect x="640.55" y="1031.35" width="164.30" height="46.80" fill="#fff" stroke="#737373" stroke-width="1.5"/>
<rect x="805.30" y="1036.50" width="5.50" height="47.20" fill="#282828"/>
<rect x="645.20" y="1078.60" width="165.60" height="5.10" fill="#282828"/>
<text x="642.80" y="0" transform="translate(0 1044.40) scale(1 0.930)" fill="#e03030" stroke="#e03030" xml:space="preserve">DV-02443-10-111</text>
<text x="642.80" y="0" transform="translate(0 1058.36) scale(1 0.930)" fill="#202020" stroke="#202020" xml:space="preserve">KISS BOND</text>
<text x="642.80" y="0" transform="translate(0 1072.32) scale(1 0.930)" fill="#202020" stroke="#202020" xml:space="preserve">Ejderkamp/Hofkens</text>
</g>
<g filter="url(#idf)"><text x="384.2" y="0" transform="translate(0 72.4) scale(1 1.07)" font-family="Liberation Mono, monospace" font-size="35px" fill="#303030" stroke="#ffffff" stroke-width="1.05" xml:space="preserve">TR 25 34 25657</text></g>
<rect x="428.50" y="60.00" width="16.00" height="1.50" fill="#383838"/>
<rect x="491.50" y="60.00" width="16.00" height="1.50" fill="#383838"/>
<rect x="554.50" y="60.00" width="16.00" height="1.50" fill="#383838"/>
<g font-family="Liberation Mono, monospace" font-size="11.67px" fill="#303030" filter="url(#idf)">
<text x="30.5" y="1018.50" fill="#202020" stroke="#202020" stroke-width="0.45">SELAHATTİN KEPENÇ</text>
<text x="30.5" y="1032.55">KIZILTEPE MARDİN</text>
<text x="30.5" y="1046.60">05323218270</text>
<text x="30.5" y="1060.65">kepenc_1982@hotmail.com</text>
<text x="30.5" y="1074.70">kepenctarim.com.tr</text>
</g>
<text x="643.2" y="1129.1" font-family="Liberation Serif, serif" font-size="20.4px" fill="#282828" textLength="106.6" lengthAdjust="spacingAndGlyphs" filter="url(#idf)">BreedFollow</text>
</svg>
</body></html>
